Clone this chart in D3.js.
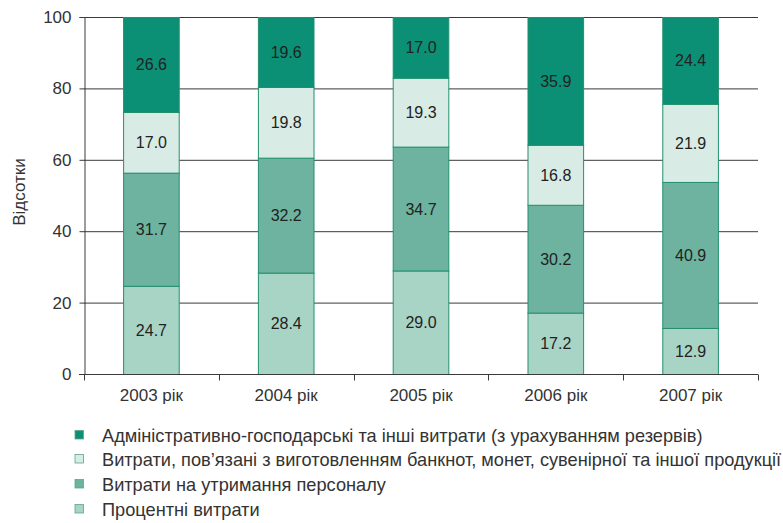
<!DOCTYPE html>
<html>
<head>
<meta charset="utf-8">
<script src="https://cdn.jsdelivr.net/npm/d3@7/dist/d3.min.js"></script>
<style>
  html, body { margin: 0; padding: 0; background: #fff; }
  svg { display: block; }
  text { font-family: "Liberation Sans", Arial, sans-serif; }
</style>
</head>
<body>
<svg id="chart" width="783" height="523"></svg>
<script>
// Structure of expenses by year, percent
const years = ["2003 рік", "2004 рік", "2005 рік", "2006 рік", "2007 рік"];
const interest   = [24.7, 28.4, 29.0, 17.2, 12.9];
const personnel  = [31.7, 32.2, 34.7, 30.2, 40.9];
const production = [17.0, 19.8, 19.3, 16.8, 21.9];
const admin      = [26.6, 19.6, 17.0, 35.9, 24.4];
const yTicks = [0, 20, 40, 60, 80, 100];

const seriesNames = [
  "Процентні витрати",
  "Витрати на утримання персоналу",
  "Витрати, пов’язані з виготовленням банкнот, монет, сувенірної та іншої продукції",
  "Адміністративно-господарські та інші витрати (з урахуванням резервів)"
];
const seriesKeys = ["interest", "personnel", "production", "admin"];
const seriesColors = ["#a8d4c6", "#6db39f", "#d9ebe5", "#0b8f75"];

const table = years.map((y, i) => ({
  year: y,
  interest: interest[i],
  personnel: personnel[i],
  production: production[i],
  admin: admin[i]
}));

const svg = d3.select("#chart");
const plotL = 84, plotR = 758, plotT = 17, plotB = 374;

const x = d3.scaleBand().domain(years).range([plotL, plotR]).paddingInner(0).paddingOuter(0);
const y = d3.scaleLinear().domain([0, 100]).range([plotB, plotT]);
const barW = x.bandwidth() * 0.42;

// gridlines
svg.append("g")
  .selectAll("line")
  .data(yTicks.filter(d => d > 0))
  .join("line")
  .attr("x1", plotL).attr("x2", plotR)
  .attr("y1", d => y(d) + 0.5).attr("y2", d => y(d) + 0.5)
  .attr("stroke", "#3a3a3a").attr("stroke-width", 1);

// stacked bars
const stack = d3.stack().keys(seriesKeys);
const layers = stack(table);

const g = svg.append("g");
layers.forEach((layer, li) => {
  g.append("g")
    .selectAll("rect")
    .data(layer)
    .join("rect")
    .attr("x", d => x(d.data.year) + (x.bandwidth() - barW) / 2 + 0.5)
    .attr("width", barW - 1)
    .attr("y", d => y(Math.min(d[1], 100)) + 0.5)
    .attr("height", d => y(d[0]) - y(Math.min(d[1], 100)))
    .attr("fill", seriesColors[li])
    .attr("stroke", "#23906f")
    .attr("stroke-width", 1);
});

// value labels
layers.forEach((layer, li) => {
  g.append("g")
    .selectAll("text")
    .data(layer)
    .join("text")
    .attr("x", d => x(d.data.year) + x.bandwidth() / 2)
    .attr("y", d => (y(d[0]) + y(Math.min(d[1], 100))) / 2 + 6)
    .attr("text-anchor", "middle")
    .attr("font-size", 16)
    .attr("fill", "#222")
    .text(d => d.data[seriesKeys[li]].toFixed(1));
});

// y axis
const yAxis = d3.axisLeft(y).tickValues(yTicks).tickSize(5).tickPadding(8).tickFormat(d3.format("d"));
const ya = svg.append("g").attr("transform", `translate(${plotL + 0.5},0)`).call(yAxis);
ya.select(".domain").attr("stroke", "#3a3a3a");
ya.selectAll(".tick line").attr("stroke", "#3a3a3a");
ya.selectAll(".tick text").attr("font-size", 17).attr("fill", "#333")
  .attr("font-family", "'Liberation Sans', Arial, sans-serif");

// x axis with ticks on band boundaries
const xa = svg.append("g").attr("transform", `translate(0,${plotB + 0.5})`);
xa.append("line").attr("x1", plotL - 5).attr("x2", plotR).attr("y1", 0).attr("y2", 0).attr("stroke", "#3a3a3a");
const bounds = years.map(d => x(d)).concat([plotR]);
xa.selectAll("line.tk")
  .data(bounds)
  .join("line")
  .attr("class", "tk")
  .attr("x1", d => Math.round(d) + 0.5).attr("x2", d => Math.round(d) + 0.5)
  .attr("y1", 0).attr("y2", 6)
  .attr("stroke", "#3a3a3a");
xa.selectAll("text")
  .data(years)
  .join("text")
  .attr("x", d => x(d) + x.bandwidth() / 2)
  .attr("y", 26)
  .attr("text-anchor", "middle")
  .attr("font-size", 17)
  .attr("fill", "#333")
  .text(d => d);

// y axis title
svg.append("text")
  .attr("transform", "translate(25,192) rotate(-90)")
  .attr("text-anchor", "middle")
  .attr("font-size", 17)
  .attr("fill", "#333")
  .text("Відсотки");

// legend (top-down: admin, production, personnel, interest)
const legendOrder = [3, 2, 1, 0];
const legendY = [435, 459, 484, 509];
const lg = svg.append("g");
legendOrder.forEach((si, row) => {
  lg.append("rect")
    .attr("x", 75).attr("y", legendY[row] - 4.5)
    .attr("width", 8.5).attr("height", 8.5)
    .attr("fill", seriesColors[si])
    .attr("stroke", "#5aa58e").attr("stroke-width", 0.8);
  lg.append("text")
    .attr("x", 102).attr("y", legendY[row] + 6.5)
    .attr("font-size", 18.2)
    .attr("font-family", "'Liberation Sans Narrow', 'Liberation Sans', Arial, sans-serif")
    .attr("fill", "#333")
    .text(seriesNames[si]);
});
</script>
</body>
</html>
